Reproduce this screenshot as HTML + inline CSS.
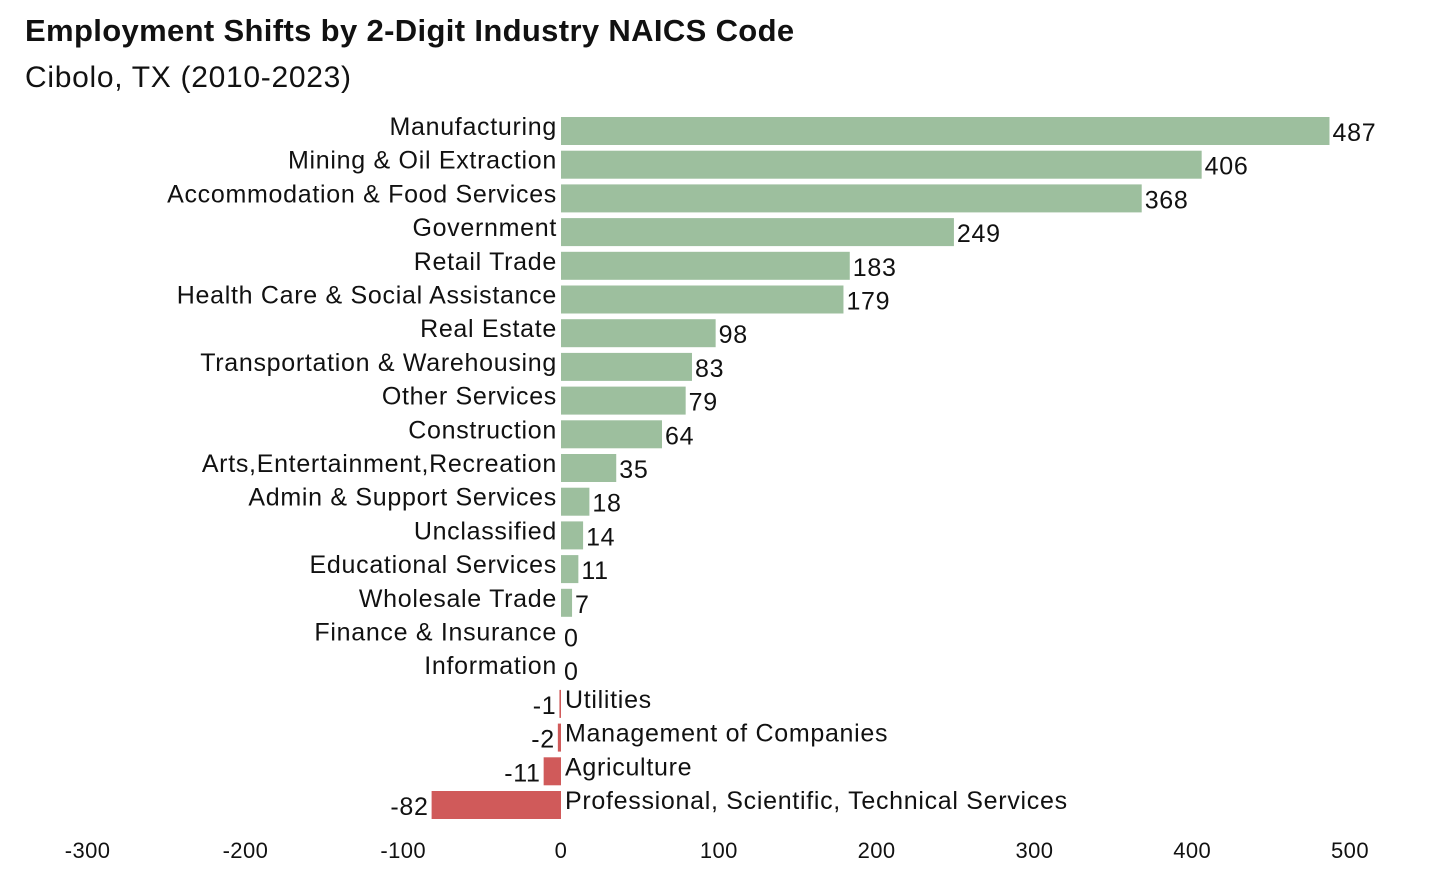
<!DOCTYPE html>
<html><head><meta charset="utf-8"><style>
body{margin:0;background:#fff;font-family:"Liberation Sans",sans-serif;}
svg text{font-family:"Liberation Sans",sans-serif;fill:#111;}
</style></head><body>
<svg id="chart" width="1430" height="880" xmlns="http://www.w3.org/2000/svg">
<text x="25" y="41" font-size="31" font-weight="bold" letter-spacing="0.35">Employment Shifts by 2-Digit Industry NAICS Code</text>
<text x="25" y="87" font-size="30" letter-spacing="0.7">Cibolo, TX (2010-2023)</text>
<g id="bars"></g><g id="ticks"></g>
</svg>
<script>
const categories=["Manufacturing","Mining & Oil Extraction","Accommodation & Food Services","Government","Retail Trade","Health Care & Social Assistance","Real Estate","Transportation & Warehousing","Other Services","Construction","Arts,Entertainment,Recreation","Admin & Support Services","Unclassified","Educational Services","Wholesale Trade","Finance & Insurance","Information","Utilities","Management of Companies","Agriculture","Professional, Scientific, Technical Services"];
const values=[487,406,368,249,183,179,98,83,79,64,35,18,14,11,7,0,0,-1,-2,-11,-82];
const tickValues=[-300,-200,-100,0,100,200,300,400,500];
const NS="http://www.w3.org/2000/svg";
const x=v=>561+v*1.578;
const yc=i=>131+i*33.7;
const bh=28;
const g=document.getElementById('bars');
function mk(tag,attrs,parent,txt){const e=document.createElementNS(NS,tag);for(const k in attrs)e.setAttribute(k,attrs[k]);if(txt!==undefined)e.textContent=txt;parent.appendChild(e);return e;}
values.forEach((v,i)=>{
  const x0=Math.min(x(0),x(v)),w=Math.abs(x(v)-x(0));
  const r=mk('rect',{x:x0,y:yc(i)-bh/2,width:w,height:bh,fill:v>=0?'#9dbf9e':'#d05a5a'},g);
  
  
  const cl=mk('text',{x:v>=0?557:565,y:yc(i)+4,'font-size':25,'letter-spacing':0.7,'text-anchor':v>=0?'end':'start'},g,categories[i]);
  
  
  const vl=mk('text',{x:v>=0?x(v)+3:x(v)-3,y:yc(i)+10,'font-size':25,'letter-spacing':0.7,'text-anchor':v>=0?'start':'end'},g,String(v));
  
  
});
const t=document.getElementById('ticks');
tickValues.forEach(v=>{
  const e=mk('text',{x:x(v),y:858,'font-size':22,'letter-spacing':0.4,'text-anchor':'middle'},t,String(v));
  
  
});
</script>
</body></html>
